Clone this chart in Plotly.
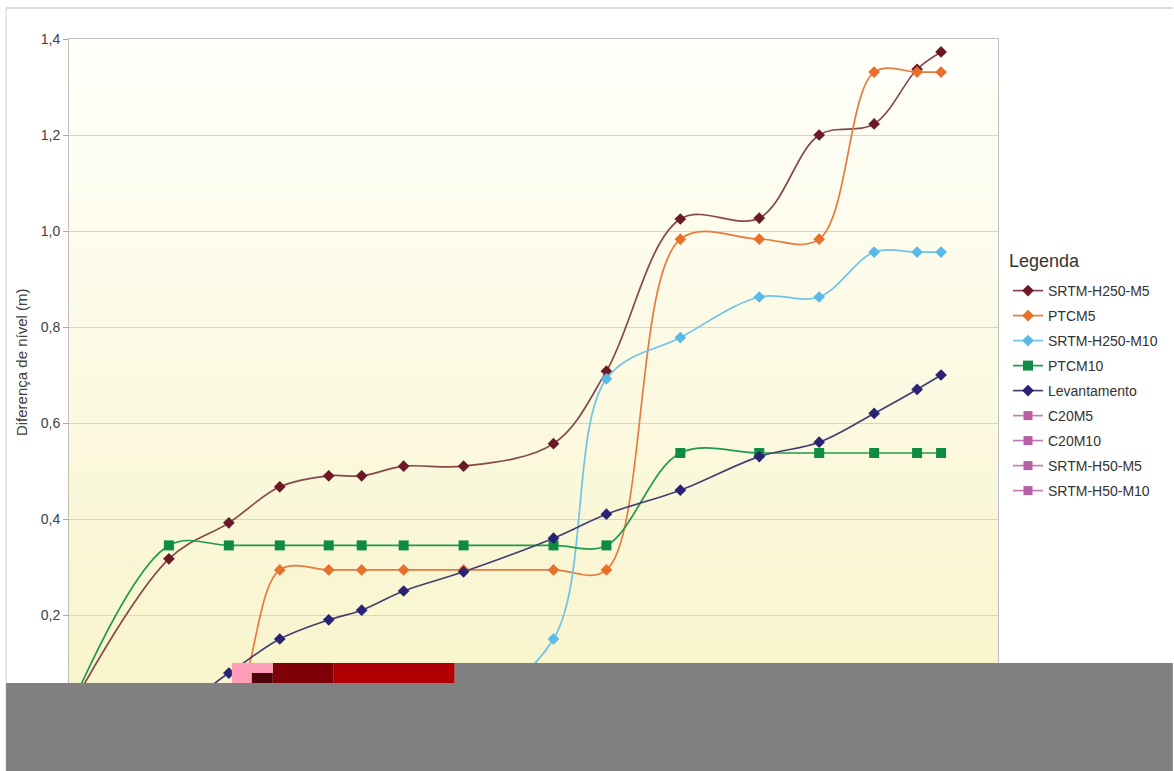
import plotly.graph_objects as go

# ---------------- data ----------------
distance = [0, 100, 160, 211, 260, 293, 335, 395, 485, 538, 612, 691, 751, 806, 849, 873]

srtm_h250_m5 = [0, 0.317, 0.392, 0.467, 0.49, 0.49, 0.51, 0.51, 0.557, 0.708, 1.025, 1.027, 1.2, 1.223, 1.337, 1.373]
ptcm5 = [0, 0, 0, 0.294, 0.294, 0.294, 0.294, 0.294, 0.294, 0.294, 0.983, 0.983, 0.983, 1.331, 1.331, 1.331]
srtm_h250_m10 = [0, 0, 0, 0, 0, 0, 0, 0, 0.15, 0.692, 0.778, 0.8625, 0.8625, 0.956, 0.956, 0.956]
ptcm10 = [0, 0.345, 0.345, 0.345, 0.345, 0.345, 0.345, 0.345, 0.345, 0.345, 0.5375, 0.5375, 0.5375, 0.5375, 0.5375, 0.5375]
levantamento = [0, 0.0, 0.079, 0.15, 0.19, 0.21, 0.25, 0.29, 0.36, 0.41, 0.46, 0.53, 0.56, 0.62, 0.67, 0.70]
c20m5 = [0] * 16
c20m10 = [0] * 16
srtm_h50_m5 = [0] * 16
srtm_h50_m10 = [0] * 16

series_names = ["SRTM-H250-M5", "PTCM5", "SRTM-H250-M10", "PTCM10", "Levantamento",
                "C20M5", "C20M10", "SRTM-H50-M5", "SRTM-H50-M10"]
series_values = [srtm_h250_m5, ptcm5, srtm_h250_m10, ptcm10, levantamento,
                 c20m5, c20m10, srtm_h50_m5, srtm_h50_m10]

y_tickvals = [0, 0.2, 0.4, 0.6, 0.8, 1.0, 1.2, 1.4]

# ---------------- styles ----------------
styles = [
    dict(line="#87484C", marker="#6A1A24", symbol="diamond", size=9),
    dict(line="#E77B3C", marker="#E8702A", symbol="diamond", size=9),
    dict(line="#6EC3E8", marker="#5BB9E8", symbol="diamond", size=9),
    dict(line="#1F9A4B", marker="#0F8C44", symbol="square", size=10),
    dict(line="#433F72", marker="#2A2373", symbol="diamond", size=9),
    dict(line="#C47CB5", marker="#B65FA5", symbol="square", size=9),
    dict(line="#C47CB5", marker="#B65FA5", symbol="square", size=9),
    dict(line="#C47CB5", marker="#B65FA5", symbol="square", size=9),
    dict(line="#C47CB5", marker="#B65FA5", symbol="square", size=9),
]

FONT = "Liberation Sans, Arial, sans-serif"

fig = go.Figure()
for i, (name, vals) in enumerate(zip(series_names, series_values)):
    st = styles[i]
    fig.add_trace(go.Scatter(
        x=distance, y=vals, name=name, mode="lines+markers",
        legendgroup=name,
        line=dict(color=st["line"], width=1.7, shape="spline", smoothing=1.0),
        marker=dict(color=st["marker"], symbol=st["symbol"], size=st["size"]),
    ))

# ---------------- geometry helpers (pixel -> paper) ----------------
L, R, T, B = 69, 999, 39, 711
def px(xp):
    return (xp - L) / (R - L)
def py(yp):
    return (B - yp) / (B - T)

shapes = []
# gradient background of plot area
n = 80
top_c = (255, 255, 251)
bot_c = (248, 244, 202)
for k in range(n):
    t = (k + 0.5) / n  # 0 at bottom, 1 at top
    c = tuple(round(bot_c[j] + (top_c[j] - bot_c[j]) * t) for j in range(3))
    shapes.append(dict(type="rect", xref="x domain", yref="y domain",
                       x0=0, x1=1, y0=k / n, y1=(k + 1) / n + 0.002,
                       fillcolor="rgb(%d,%d,%d)" % c, line=dict(width=0), layer="below"))

# outer chart border
shapes.append(dict(type="line", xref="paper", yref="paper", x0=px(6), x1=px(1174), y0=py(8), y1=py(8),
                   line=dict(color="#B8B8B8", width=1), layer="above"))
shapes.append(dict(type="line", xref="paper", yref="paper", x0=px(6), x1=px(6), y0=py(8), y1=py(771),
                   line=dict(color="#D0D0D0", width=1), layer="above"))

# occluding blocks present in the reference picture
def block(x0, x1, y0, y1, color):
    shapes.append(dict(type="rect", xref="paper", yref="paper",
                       x0=px(x0), x1=px(x1), y0=py(y1), y1=py(y0),
                       fillcolor=color, line=dict(width=0), layer="above"))

block(6, 1174, 683, 771, "#808080")
block(455, 1174, 663, 683, "#808080")
block(334, 455, 663, 683, "#B00004")
block(273, 334, 663, 683, "#7E0008")
block(232, 273, 663, 673, "#FF9DB9")
block(232, 252, 673, 683, "#FF9DB9")
block(252, 273, 673, 683, "#4E0006")

fig.update_layout(
    width=1174, height=771,
    margin=dict(l=L, r=1174 - R, t=T, b=771 - B),
    paper_bgcolor="white",
    plot_bgcolor="rgba(0,0,0,0)",
    separators=", ",
    font=dict(family=FONT, color="#404040"),
    shapes=shapes,
    showlegend=True,
    legend=dict(
        x=px(1008), y=py(275), xanchor="left", yanchor="top",
        bgcolor="rgba(0,0,0,0)",
        traceorder="grouped", tracegroupgap=3.8,
        font=dict(family=FONT, size=14, color="#333333"),
    ),
    annotations=[
        dict(text="Diferença de nível (m)", xref="paper", yref="paper",
             x=px(21), y=py(362), textangle=-90, showarrow=False,
             xanchor="center", yanchor="middle",
             font=dict(family=FONT, size=15, color="#404040")),
        dict(text="Legenda", xref="paper", yref="paper",
             x=px(1008), y=py(261), showarrow=False,
             xanchor="left", yanchor="middle",
             font=dict(family=FONT, size=18, color="#333333")),
    ],
)

fig.update_yaxes(
    range=[0, 1.4], tickvals=y_tickvals, tickformat=".1f",
    showgrid=True, gridcolor="#D8D5C0", gridwidth=1,
    showline=True, linecolor="#BDBDBD", linewidth=1, mirror=True,
    ticks="outside", ticklen=5, tickcolor="#A8A8A8",
    tickfont=dict(family=FONT, size=14, color="#404040"),
    zeroline=False,
)
fig.update_xaxes(
    range=[0, 930], showgrid=False,
    showline=True, linecolor="#BDBDBD", linewidth=1, mirror=True,
    ticks="outside", ticklen=5, tickcolor="#A8A8A8",
    tickfont=dict(family=FONT, size=14, color="#404040"),
    zeroline=False,
)

fig.write_html("out.html", config={"displayModeBar": False},
               post_script="document.body.style.margin='0';")
